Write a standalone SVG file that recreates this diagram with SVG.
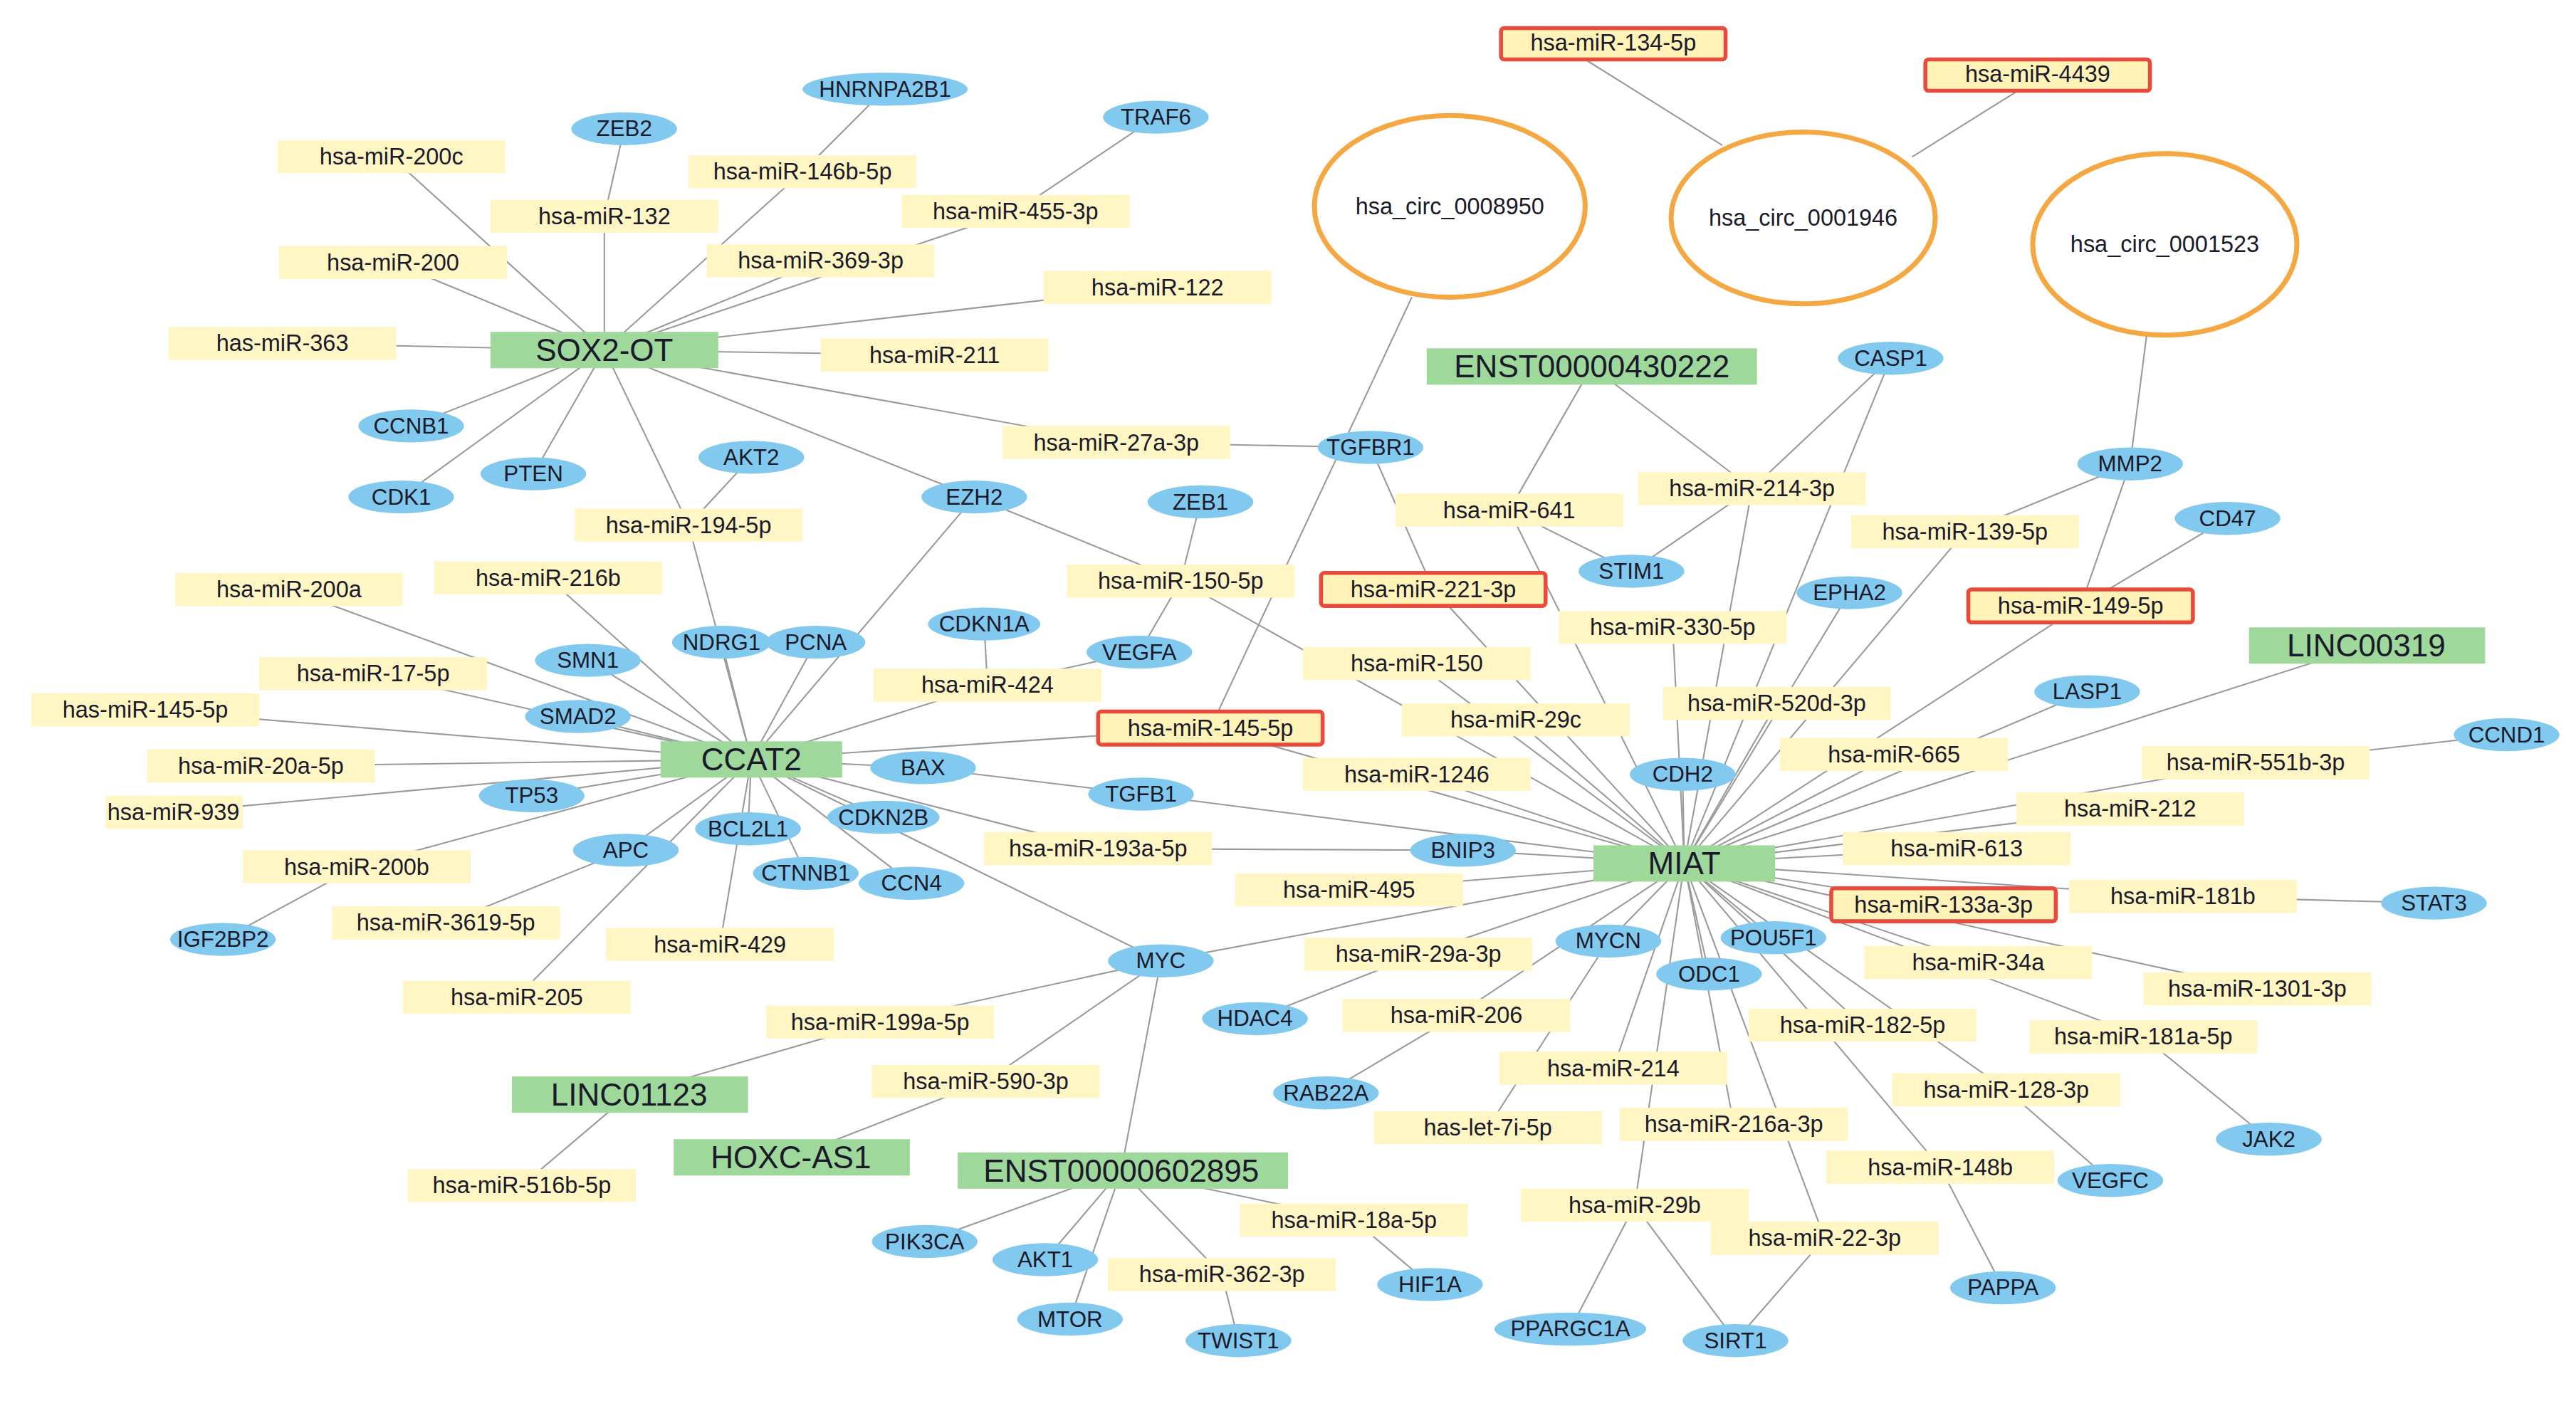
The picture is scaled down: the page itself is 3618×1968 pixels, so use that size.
<svg xmlns="http://www.w3.org/2000/svg" width="3618" height="1968" viewBox="0 0 3618 1968">
<style>
text{font-family:"Liberation Sans",Arial,sans-serif;text-anchor:middle;dominant-baseline:central;fill:#1a1a2a}
.y rect{fill:#fff6c4}
.y text{font-size:14px}
.r rect{fill:#fff3b8;stroke:#ea4a3c;stroke-width:2.4}
.r text{font-size:14px}
.g rect{fill:#9fd89b}
.g text{font-size:19px}
.b ellipse{fill:#82c9ef}
.b text{font-size:13.5px}
.c ellipse{fill:#fff;stroke:#f5a742;stroke-width:3}
.c text{font-size:14px}
#edges line{stroke:#9a9a9a;stroke-width:0.9}
</style>
<rect width="3618" height="1968" fill="#fff"/>
<g transform="scale(2.3192)">
<g id="edges">
<line x1="366" y1="212" x2="237" y2="95"/><line x1="366" y1="212" x2="366" y2="131"/><line x1="366" y1="212" x2="486" y2="104"/>
<line x1="366" y1="212" x2="497" y2="158"/><line x1="366" y1="212" x2="615" y2="128"/><line x1="366" y1="212" x2="238" y2="159"/>
<line x1="366" y1="212" x2="701" y2="174"/><line x1="366" y1="212" x2="171" y2="208"/><line x1="366" y1="212" x2="566" y2="215"/>
<line x1="366" y1="212" x2="676" y2="268"/><line x1="366" y1="212" x2="249" y2="258"/><line x1="366" y1="212" x2="243" y2="301"/>
<line x1="366" y1="212" x2="323" y2="287"/><line x1="366" y1="212" x2="590" y2="301"/><line x1="366" y1="212" x2="417" y2="318"/>
<line x1="378" y1="78" x2="366" y2="131"/><line x1="536" y1="54" x2="486" y2="104"/><line x1="700" y1="71" x2="615" y2="128"/>
<line x1="676" y1="268" x2="830" y2="271"/><line x1="455" y1="277" x2="417" y2="318"/><line x1="417" y1="318" x2="455" y2="460"/>
<line x1="590" y1="301" x2="715" y2="352"/><line x1="590" y1="301" x2="455" y2="460"/><line x1="727" y1="304" x2="715" y2="352"/>
<line x1="690" y1="395" x2="715" y2="352"/><line x1="690" y1="395" x2="598" y2="415"/><line x1="596" y1="378" x2="598" y2="415"/>
<line x1="598" y1="415" x2="455" y2="460"/><line x1="715" y1="352" x2="1020" y2="523"/>
<line x1="855" y1="180" x2="733" y2="441"/><line x1="830" y1="271" x2="868" y2="357"/><line x1="868" y1="357" x2="1020" y2="523"/>
<line x1="964" y1="222" x2="914" y2="309"/><line x1="964" y1="222" x2="1061" y2="296"/><line x1="914" y1="309" x2="988" y2="346"/>
<line x1="914" y1="309" x2="1020" y2="523"/><line x1="1061" y1="296" x2="988" y2="346"/><line x1="1145" y1="217" x2="1061" y2="296"/>
<line x1="1145" y1="217" x2="1020" y2="523"/><line x1="1061" y1="296" x2="1020" y2="523"/>
<line x1="960" y1="36" x2="1043" y2="88"/><line x1="1222" y1="55" x2="1158" y2="95"/>
<line x1="1300" y1="203" x2="1290" y2="281"/><line x1="1290" y1="281" x2="1260" y2="367"/><line x1="1290" y1="281" x2="1190" y2="322"/>
<line x1="1190" y1="322" x2="1020" y2="523"/><line x1="1349" y1="314" x2="1260" y2="367"/><line x1="1260" y1="367" x2="1020" y2="523"/>
<line x1="1120" y1="359" x2="1020" y2="523"/><line x1="1433" y1="391" x2="1020" y2="523"/><line x1="1264" y1="419" x2="1020" y2="523"/>
<line x1="1147" y1="457" x2="1020" y2="523"/><line x1="1518" y1="445" x2="1366" y2="462"/><line x1="1366" y1="462" x2="1020" y2="523"/>
<line x1="1290" y1="490" x2="1020" y2="523"/><line x1="1185" y1="514" x2="1020" y2="523"/><line x1="1322" y1="543" x2="1020" y2="523"/>
<line x1="1474" y1="547" x2="1322" y2="543"/><line x1="1177" y1="548" x2="1020" y2="523"/><line x1="1198" y1="583" x2="1020" y2="523"/>
<line x1="1367" y1="599" x2="1020" y2="523"/><line x1="1298" y1="628" x2="1020" y2="523"/><line x1="1374" y1="690" x2="1298" y2="628"/>
<line x1="1128" y1="621" x2="1020" y2="523"/><line x1="1215" y1="660" x2="1020" y2="523"/><line x1="1278" y1="715" x2="1215" y2="660"/>
<line x1="1213" y1="780" x2="1175" y2="707"/><line x1="1175" y1="707" x2="1020" y2="523"/><line x1="1105" y1="750" x2="1020" y2="523"/>
<line x1="1051" y1="812" x2="1105" y2="750"/><line x1="1051" y1="812" x2="990" y2="730"/><line x1="951" y1="805" x2="990" y2="730"/>
<line x1="990" y1="730" x2="1020" y2="523"/><line x1="1050" y1="681" x2="1020" y2="523"/><line x1="977" y1="647" x2="1020" y2="523"/>
<line x1="901" y1="683" x2="974" y2="570"/><line x1="974" y1="570" x2="1020" y2="523"/><line x1="1074" y1="568" x2="1020" y2="523"/>
<line x1="1035" y1="590" x2="1020" y2="523"/><line x1="882" y1="615" x2="1020" y2="523"/><line x1="803" y1="662" x2="882" y2="615"/>
<line x1="859" y1="578" x2="1020" y2="523"/><line x1="760" y1="617" x2="859" y2="578"/><line x1="703" y1="582" x2="1020" y2="523"/>
<line x1="817" y1="539" x2="1020" y2="523"/><line x1="886" y1="515" x2="1020" y2="523"/><line x1="665" y1="514" x2="886" y2="515"/>
<line x1="691" y1="481" x2="1020" y2="523"/><line x1="559" y1="465" x2="691" y2="481"/><line x1="858" y1="469" x2="1020" y2="523"/>
<line x1="858" y1="402" x2="1020" y2="523"/><line x1="918" y1="436" x2="1020" y2="523"/><line x1="1013" y1="380" x2="1020" y2="523"/>
<line x1="1076" y1="426" x2="1020" y2="523"/><line x1="1019" y1="469" x2="1020" y2="523"/><line x1="733" y1="441" x2="1020" y2="523"/>
<line x1="455" y1="460" x2="175" y2="357"/><line x1="455" y1="460" x2="332" y2="350"/><line x1="455" y1="460" x2="226" y2="408"/>
<line x1="455" y1="460" x2="88" y2="430"/><line x1="455" y1="460" x2="356" y2="400"/><line x1="455" y1="460" x2="350" y2="434"/>
<line x1="455" y1="460" x2="158" y2="464"/><line x1="455" y1="460" x2="105" y2="492"/><line x1="455" y1="460" x2="322" y2="482"/>
<line x1="455" y1="460" x2="216" y2="525"/><line x1="455" y1="460" x2="379" y2="515"/><line x1="455" y1="460" x2="453" y2="502"/>
<line x1="455" y1="460" x2="488" y2="529"/><line x1="455" y1="460" x2="552" y2="535"/><line x1="455" y1="460" x2="535" y2="495"/>
<line x1="455" y1="460" x2="665" y2="514"/><line x1="455" y1="460" x2="559" y2="465"/><line x1="455" y1="460" x2="733" y2="441"/>
<line x1="455" y1="460" x2="494" y2="389"/><line x1="455" y1="460" x2="437" y2="389"/><line x1="455" y1="460" x2="313" y2="604"/>
<line x1="455" y1="460" x2="436" y2="572"/><line x1="455" y1="460" x2="703" y2="582"/><line x1="379" y1="515" x2="270" y2="559"/>
<line x1="135" y1="569" x2="216" y2="525"/>
<line x1="703" y1="582" x2="533" y2="619"/><line x1="703" y1="582" x2="597" y2="655"/><line x1="703" y1="582" x2="679" y2="709"/>
<line x1="381" y1="663" x2="533" y2="619"/><line x1="381" y1="663" x2="316" y2="718"/><line x1="479" y1="701" x2="597" y2="655"/>
<line x1="679" y1="709" x2="560" y2="752"/><line x1="679" y1="709" x2="633" y2="763"/><line x1="679" y1="709" x2="648" y2="799"/>
<line x1="679" y1="709" x2="740" y2="772"/><line x1="740" y1="772" x2="750" y2="812"/><line x1="679" y1="709" x2="820" y2="739"/>
<line x1="866" y1="778" x2="820" y2="739"/>
</g>
<g id="n-circ8950" class="c"><ellipse cx="878" cy="125" rx="82" ry="55"/><text x="878" y="125">hsa_circ_0008950</text></g>
<g id="n-circ1946" class="c"><ellipse cx="1092" cy="132" rx="80" ry="52"/><text x="1092" y="132">hsa_circ_0001946</text></g>
<g id="n-circ1523" class="c"><ellipse cx="1311" cy="148" rx="80" ry="55"/><text x="1311" y="148">hsa_circ_0001523</text></g>
<g id="n-sox2ot" class="g"><rect x="297" y="201" width="138" height="22"/><text x="366" y="212">SOX2-OT</text></g>
<g id="n-ccat2" class="g"><rect x="400" y="449" width="110" height="22"/><text x="455" y="460">CCAT2</text></g>
<g id="n-miat" class="g"><rect x="965" y="512" width="110" height="22"/><text x="1020" y="523">MIAT</text></g>
<g id="n-enst430222" class="g"><rect x="864" y="211" width="200" height="22"/><text x="964" y="222">ENST00000430222</text></g>
<g id="n-linc00319" class="g"><rect x="1362" y="380" width="143" height="22"/><text x="1433" y="391">LINC00319</text></g>
<g id="n-linc01123" class="g"><rect x="310" y="652" width="143" height="22"/><text x="381" y="663">LINC01123</text></g>
<g id="n-hoxcas1" class="g"><rect x="408" y="690" width="143" height="22"/><text x="479" y="701">HOXC-AS1</text></g>
<g id="n-enst602895" class="g"><rect x="580" y="698" width="200" height="22"/><text x="679" y="709">ENST00000602895</text></g>
<g class="y" id="m-200c"><rect x="168" y="85" width="138" height="20"/><text x="237" y="95">hsa-miR-200c</text></g>
<g class="y" id="m-132"><rect x="297" y="121" width="138" height="20"/><text x="366" y="131">hsa-miR-132</text></g>
<g class="y" id="m-146b"><rect x="417" y="94" width="138" height="20"/><text x="486" y="104">hsa-miR-146b-5p</text></g>
<g class="y" id="m-455"><rect x="546" y="118" width="138" height="20"/><text x="615" y="128">hsa-miR-455-3p</text></g>
<g class="y" id="m-200"><rect x="169" y="149" width="138" height="20"/><text x="238" y="159">hsa-miR-200</text></g>
<g class="y" id="m-369"><rect x="428" y="148" width="138" height="20"/><text x="497" y="158">hsa-miR-369-3p</text></g>
<g class="y" id="m-122"><rect x="632" y="164" width="138" height="20"/><text x="701" y="174">hsa-miR-122</text></g>
<g class="y" id="m-363"><rect x="102" y="198" width="138" height="20"/><text x="171" y="208">has-miR-363</text></g>
<g class="y" id="m-211"><rect x="497" y="205" width="138" height="20"/><text x="566" y="215">hsa-miR-211</text></g>
<g class="y" id="m-27a"><rect x="607" y="258" width="138" height="20"/><text x="676" y="268">hsa-miR-27a-3p</text></g>
<g class="y" id="m-194"><rect x="348" y="308" width="138" height="20"/><text x="417" y="318">hsa-miR-194-5p</text></g>
<g class="y" id="m-216b"><rect x="263" y="340" width="138" height="20"/><text x="332" y="350">hsa-miR-216b</text></g>
<g class="y" id="m-200a"><rect x="106" y="347" width="138" height="20"/><text x="175" y="357">hsa-miR-200a</text></g>
<g class="y" id="m-150-5p"><rect x="646" y="342" width="138" height="20"/><text x="715" y="352">hsa-miR-150-5p</text></g>
<g class="y" id="m-17"><rect x="157" y="398" width="138" height="20"/><text x="226" y="408">hsa-miR-17-5p</text></g>
<g class="y" id="m-424"><rect x="529" y="405" width="138" height="20"/><text x="598" y="415">hsa-miR-424</text></g>
<g class="y" id="m-145a"><rect x="19" y="420" width="138" height="20"/><text x="88" y="430">has-miR-145-5p</text></g>
<g class="y" id="m-20a"><rect x="89" y="454" width="138" height="20"/><text x="158" y="464">hsa-miR-20a-5p</text></g>
<g class="y" id="m-939"><rect x="64" y="482" width="83" height="20"/><text x="105" y="492">hsa-miR-939</text></g>
<g class="y" id="m-200b"><rect x="147" y="515" width="138" height="20"/><text x="216" y="525">hsa-miR-200b</text></g>
<g class="y" id="m-3619"><rect x="201" y="549" width="138" height="20"/><text x="270" y="559">hsa-miR-3619-5p</text></g>
<g class="y" id="m-429"><rect x="367" y="562" width="138" height="20"/><text x="436" y="572">hsa-miR-429</text></g>
<g class="y" id="m-205"><rect x="244" y="594" width="138" height="20"/><text x="313" y="604">hsa-miR-205</text></g>
<g class="y" id="m-199a"><rect x="464" y="609" width="138" height="20"/><text x="533" y="619">hsa-miR-199a-5p</text></g>
<g class="y" id="m-590"><rect x="528" y="645" width="138" height="20"/><text x="597" y="655">hsa-miR-590-3p</text></g>
<g class="y" id="m-516b"><rect x="247" y="708" width="138" height="20"/><text x="316" y="718">hsa-miR-516b-5p</text></g>
<g class="y" id="m-193a"><rect x="596" y="504" width="138" height="20"/><text x="665" y="514">hsa-miR-193a-5p</text></g>
<g class="y" id="m-495"><rect x="748" y="529" width="138" height="20"/><text x="817" y="539">hsa-miR-495</text></g>
<g class="r" id="m-145b"><rect x="665" y="431" width="136" height="20" rx="2"/><text x="733" y="441">hsa-miR-145-5p</text></g>
<g class="y" id="m-1246"><rect x="789" y="459" width="138" height="20"/><text x="858" y="469">hsa-miR-1246</text></g>
<g class="y" id="m-150"><rect x="789" y="392" width="138" height="20"/><text x="858" y="402">hsa-miR-150</text></g>
<g class="y" id="m-29c"><rect x="849" y="426" width="138" height="20"/><text x="918" y="436">hsa-miR-29c</text></g>
<g class="r" id="m-221"><rect x="800" y="347" width="136" height="20" rx="2"/><text x="868" y="357">hsa-miR-221-3p</text></g>
<g class="y" id="m-641"><rect x="845" y="299" width="138" height="20"/><text x="914" y="309">hsa-miR-641</text></g>
<g class="y" id="m-214-3p"><rect x="992" y="286" width="138" height="20"/><text x="1061" y="296">hsa-miR-214-3p</text></g>
<g class="y" id="m-330"><rect x="944" y="370" width="138" height="20"/><text x="1013" y="380">hsa-miR-330-5p</text></g>
<g class="y" id="m-139"><rect x="1121" y="312" width="138" height="20"/><text x="1190" y="322">hsa-miR-139-5p</text></g>
<g class="r" id="m-149"><rect x="1192" y="357" width="136" height="20" rx="2"/><text x="1260" y="367">hsa-miR-149-5p</text></g>
<g class="y" id="m-520d"><rect x="1007" y="416" width="138" height="20"/><text x="1076" y="426">hsa-miR-520d-3p</text></g>
<g class="y" id="m-665"><rect x="1078" y="447" width="138" height="20"/><text x="1147" y="457">hsa-miR-665</text></g>
<g class="y" id="m-551b"><rect x="1297" y="452" width="138" height="20"/><text x="1366" y="462">hsa-miR-551b-3p</text></g>
<g class="y" id="m-212"><rect x="1221" y="480" width="138" height="20"/><text x="1290" y="490">hsa-miR-212</text></g>
<g class="y" id="m-613"><rect x="1116" y="504" width="138" height="20"/><text x="1185" y="514">hsa-miR-613</text></g>
<g class="y" id="m-181b"><rect x="1253" y="533" width="138" height="20"/><text x="1322" y="543">hsa-miR-181b</text></g>
<g class="r" id="m-133a"><rect x="1109" y="538" width="136" height="20" rx="2"/><text x="1177" y="548">hsa-miR-133a-3p</text></g>
<g class="y" id="m-34a"><rect x="1129" y="573" width="138" height="20"/><text x="1198" y="583">hsa-miR-34a</text></g>
<g class="y" id="m-1301"><rect x="1298" y="589" width="138" height="20"/><text x="1367" y="599">hsa-miR-1301-3p</text></g>
<g class="y" id="m-181a"><rect x="1229" y="618" width="138" height="20"/><text x="1298" y="628">hsa-miR-181a-5p</text></g>
<g class="y" id="m-182"><rect x="1059" y="611" width="138" height="20"/><text x="1128" y="621">hsa-miR-182-5p</text></g>
<g class="y" id="m-128"><rect x="1146" y="650" width="138" height="20"/><text x="1215" y="660">hsa-miR-128-3p</text></g>
<g class="y" id="m-148b"><rect x="1106" y="697" width="138" height="20"/><text x="1175" y="707">hsa-miR-148b</text></g>
<g class="y" id="m-29a"><rect x="790" y="568" width="138" height="20"/><text x="859" y="578">hsa-miR-29a-3p</text></g>
<g class="y" id="m-206"><rect x="813" y="605" width="138" height="20"/><text x="882" y="615">hsa-miR-206</text></g>
<g class="y" id="m-214"><rect x="908" y="637" width="138" height="20"/><text x="977" y="647">hsa-miR-214</text></g>
<g class="y" id="m-let7i"><rect x="832" y="673" width="138" height="20"/><text x="901" y="683">has-let-7i-5p</text></g>
<g class="y" id="m-216a"><rect x="981" y="671" width="138" height="20"/><text x="1050" y="681">hsa-miR-216a-3p</text></g>
<g class="y" id="m-29b"><rect x="921" y="720" width="138" height="20"/><text x="990" y="730">hsa-miR-29b</text></g>
<g class="y" id="m-22"><rect x="1036" y="740" width="138" height="20"/><text x="1105" y="750">hsa-miR-22-3p</text></g>
<g class="y" id="m-18a"><rect x="751" y="729" width="138" height="20"/><text x="820" y="739">hsa-miR-18a-5p</text></g>
<g class="y" id="m-362"><rect x="671" y="762" width="138" height="20"/><text x="740" y="772">hsa-miR-362-3p</text></g>
<g class="r" id="m-134"><rect x="909" y="17" width="136" height="19" rx="2"/><text x="977" y="26">hsa-miR-134-5p</text></g>
<g class="r" id="m-4439"><rect x="1166" y="36" width="136" height="19" rx="2"/><text x="1234" y="45">hsa-miR-4439</text></g>
<g class="b" id="p-zeb2"><ellipse cx="378" cy="78" rx="32" ry="10"/><text x="378" y="78">ZEB2</text></g>
<g class="b" id="p-hnrnpa2b1"><ellipse cx="536" cy="54" rx="50" ry="10"/><text x="536" y="54">HNRNPA2B1</text></g>
<g class="b" id="p-traf6"><ellipse cx="700" cy="71" rx="32" ry="10"/><text x="700" y="71">TRAF6</text></g>
<g class="b" id="p-ccnb1"><ellipse cx="249" cy="258" rx="32" ry="10"/><text x="249" y="258">CCNB1</text></g>
<g class="b" id="p-pten"><ellipse cx="323" cy="287" rx="32" ry="10"/><text x="323" y="287">PTEN</text></g>
<g class="b" id="p-cdk1"><ellipse cx="243" cy="301" rx="32" ry="10"/><text x="243" y="301">CDK1</text></g>
<g class="b" id="p-akt2"><ellipse cx="455" cy="277" rx="32" ry="10"/><text x="455" y="277">AKT2</text></g>
<g class="b" id="p-ezh2"><ellipse cx="590" cy="301" rx="32" ry="10"/><text x="590" y="301">EZH2</text></g>
<g class="b" id="p-zeb1"><ellipse cx="727" cy="304" rx="32" ry="10"/><text x="727" y="304">ZEB1</text></g>
<g class="b" id="p-tgfbr1"><ellipse cx="830" cy="271" rx="32" ry="10"/><text x="830" y="271">TGFBR1</text></g>
<g class="b" id="p-cdkn1a"><ellipse cx="596" cy="378" rx="34" ry="10"/><text x="596" y="378">CDKN1A</text></g>
<g class="b" id="p-vegfa"><ellipse cx="690" cy="395" rx="32" ry="10"/><text x="690" y="395">VEGFA</text></g>
<g class="b" id="p-ndrg1"><ellipse cx="437" cy="389" rx="30" ry="10"/><text x="437" y="389">NDRG1</text></g>
<g class="b" id="p-pcna"><ellipse cx="494" cy="389" rx="30" ry="10"/><text x="494" y="389">PCNA</text></g>
<g class="b" id="p-smn1"><ellipse cx="356" cy="400" rx="32" ry="10"/><text x="356" y="400">SMN1</text></g>
<g class="b" id="p-smad2"><ellipse cx="350" cy="434" rx="32" ry="10"/><text x="350" y="434">SMAD2</text></g>
<g class="b" id="p-bax"><ellipse cx="559" cy="465" rx="32" ry="10"/><text x="559" y="465">BAX</text></g>
<g class="b" id="p-tgfb1"><ellipse cx="691" cy="481" rx="32" ry="10"/><text x="691" y="481">TGFB1</text></g>
<g class="b" id="p-tp53"><ellipse cx="322" cy="482" rx="32" ry="10"/><text x="322" y="482">TP53</text></g>
<g class="b" id="p-cdkn2b"><ellipse cx="535" cy="495" rx="34" ry="10"/><text x="535" y="495">CDKN2B</text></g>
<g class="b" id="p-bcl2l1"><ellipse cx="453" cy="502" rx="32" ry="10"/><text x="453" y="502">BCL2L1</text></g>
<g class="b" id="p-apc"><ellipse cx="379" cy="515" rx="32" ry="10"/><text x="379" y="515">APC</text></g>
<g class="b" id="p-ctnnb1"><ellipse cx="488" cy="529" rx="32" ry="10"/><text x="488" y="529">CTNNB1</text></g>
<g class="b" id="p-ccn4"><ellipse cx="552" cy="535" rx="32" ry="10"/><text x="552" y="535">CCN4</text></g>
<g class="b" id="p-igf2bp2"><ellipse cx="135" cy="569" rx="32" ry="10"/><text x="135" y="569">IGF2BP2</text></g>
<g class="b" id="p-myc"><ellipse cx="703" cy="582" rx="32" ry="10"/><text x="703" y="582">MYC</text></g>
<g class="b" id="p-bnip3"><ellipse cx="886" cy="515" rx="32" ry="10"/><text x="886" y="515">BNIP3</text></g>
<g class="b" id="p-hdac4"><ellipse cx="760" cy="617" rx="32" ry="10"/><text x="760" y="617">HDAC4</text></g>
<g class="b" id="p-rab22a"><ellipse cx="803" cy="662" rx="32" ry="10"/><text x="803" y="662">RAB22A</text></g>
<g class="b" id="p-mycn"><ellipse cx="974" cy="570" rx="32" ry="10"/><text x="974" y="570">MYCN</text></g>
<g class="b" id="p-pou5f1"><ellipse cx="1074" cy="568" rx="32" ry="10"/><text x="1074" y="568">POU5F1</text></g>
<g class="b" id="p-odc1"><ellipse cx="1035" cy="590" rx="32" ry="10"/><text x="1035" y="590">ODC1</text></g>
<g class="b" id="p-cdh2"><ellipse cx="1019" cy="469" rx="32" ry="10"/><text x="1019" y="469">CDH2</text></g>
<g class="b" id="p-casp1"><ellipse cx="1145" cy="217" rx="32" ry="10"/><text x="1145" y="217">CASP1</text></g>
<g class="b" id="p-mmp2"><ellipse cx="1290" cy="281" rx="32" ry="10"/><text x="1290" y="281">MMP2</text></g>
<g class="b" id="p-cd47"><ellipse cx="1349" cy="314" rx="32" ry="10"/><text x="1349" y="314">CD47</text></g>
<g class="b" id="p-stim1"><ellipse cx="988" cy="346" rx="32" ry="10"/><text x="988" y="346">STIM1</text></g>
<g class="b" id="p-epha2"><ellipse cx="1120" cy="359" rx="32" ry="10"/><text x="1120" y="359">EPHA2</text></g>
<g class="b" id="p-lasp1"><ellipse cx="1264" cy="419" rx="32" ry="10"/><text x="1264" y="419">LASP1</text></g>
<g class="b" id="p-ccnd1"><ellipse cx="1518" cy="445" rx="32" ry="10"/><text x="1518" y="445">CCND1</text></g>
<g class="b" id="p-stat3"><ellipse cx="1474" cy="547" rx="32" ry="10"/><text x="1474" y="547">STAT3</text></g>
<g class="b" id="p-jak2"><ellipse cx="1374" cy="690" rx="32" ry="10"/><text x="1374" y="690">JAK2</text></g>
<g class="b" id="p-vegfc"><ellipse cx="1278" cy="715" rx="32" ry="10"/><text x="1278" y="715">VEGFC</text></g>
<g class="b" id="p-pappa"><ellipse cx="1213" cy="780" rx="32" ry="10"/><text x="1213" y="780">PAPPA</text></g>
<g class="b" id="p-sirt1"><ellipse cx="1051" cy="812" rx="32" ry="10"/><text x="1051" y="812">SIRT1</text></g>
<g class="b" id="p-ppargc1a"><ellipse cx="951" cy="805" rx="46" ry="10"/><text x="951" y="805">PPARGC1A</text></g>
<g class="b" id="p-hif1a"><ellipse cx="866" cy="778" rx="32" ry="10"/><text x="866" y="778">HIF1A</text></g>
<g class="b" id="p-pik3ca"><ellipse cx="560" cy="752" rx="32" ry="10"/><text x="560" y="752">PIK3CA</text></g>
<g class="b" id="p-akt1"><ellipse cx="633" cy="763" rx="32" ry="10"/><text x="633" y="763">AKT1</text></g>
<g class="b" id="p-mtor"><ellipse cx="648" cy="799" rx="32" ry="10"/><text x="648" y="799">MTOR</text></g>
<g class="b" id="p-twist1"><ellipse cx="750" cy="812" rx="32" ry="10"/><text x="750" y="812">TWIST1</text></g>
</g>
</svg>
